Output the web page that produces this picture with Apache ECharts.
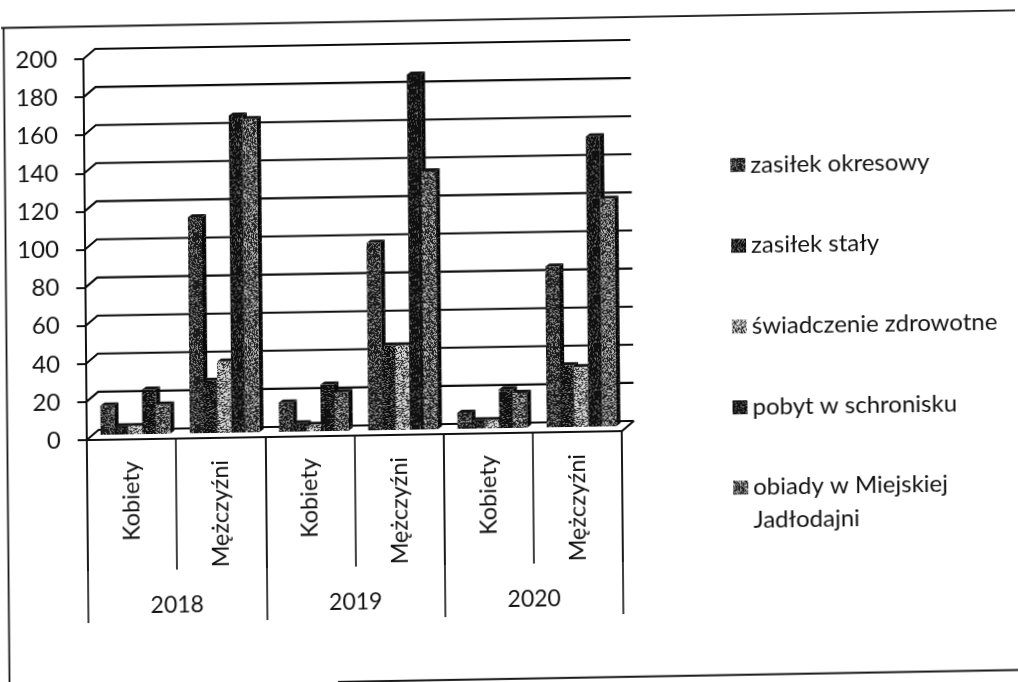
<!DOCTYPE html>
<html><head><meta charset="utf-8">
<style>html,body{margin:0;padding:0;background:#fff;overflow:hidden}
#c{width:1018px;height:682px;transform:matrix(1,-0.0168,0.009,1,0,0);transform-origin:509px 341px}</style>
<script src="https://cdn.jsdelivr.net/npm/echarts@6/dist/echarts.min.js"></script>
</head><body><div id="c"></div>
<script>
var groups = ['Kobiety','Mężczyźni','Kobiety','Mężczyźni','Kobiety','Mężczyźni'];
var years = ['2018','2019','2020'];
var yTicks = [0,20,40,60,80,100,120,140,160,180,200];
var zasilekOkresowy = [18,116,18,101,11,87];
var zasilekStaly = [7,30,7,47,7,35];
var swiadczenieZdrowotne = [7,40,6,47,7,34];
var pobytWSchronisku = [26,169,27,189,23,155];
var obiady = [18,167,23,138,21,122];
var seriesNames = ['zasiłek okresowy','zasiłek stały','świadczenie zdrowotne','pobyt w schronisku','obiady w Miejskiej\nJadłodajni'];
var seriesValues = [zasilekOkresowy,zasilekStaly,swiadczenieZdrowotne,pobytWSchronisku,obiady];

function pattern(dark,light,share,seed){
  var c=document.createElement('canvas');c.width=c.height=48;
  var g=c.getContext('2d'),s=seed;
  g.fillStyle=dark;g.fillRect(0,0,48,48);g.fillStyle=light;
  for(var y=0;y<48;y++)for(var x=0;x<48;x++){
    s=(s*1103515245+12345)%2147483648;
    if(((s>>>12)%1000)/1000<share)g.fillRect(x,y,1,1);
  }
  return {image:c,repeat:'repeat'};
}
var fills=[
  pattern('#1a1a1a','#8a8a8a',.30,11),
  pattern('#101010','#707070',.22,23),
  pattern('#2c2c2c','#d4d4d4',.60,37),
  pattern('#101010','#707070',.18,51),
  pattern('#222222','#b0b0b0',.42,73)
];
var sideFill=pattern('#080808','#444',.10,91);
var DEPTH_X=12,DEPTH_Y=10;

function renderBar(params,api){
  var s=params.seriesIndex-1;
  var i=api.value(0),band=api.size([1,0])[0];
  var top=api.coord([i,api.value(1)]),zero=api.coord([i,0]);
  var left=zero[0]-band/2+band*(.157+s*.156),w=band*.156,sx=4.2,sy=3;
  var base=zero[1]-5,t=top[1];
  return {type:'group',children:[
    {type:'polygon',shape:{points:[[left+w,t],[left+w+sx,t-sy],[left+w+sx,base-sy],[left+w,base]]},style:{fill:sideFill}},
    {type:'polygon',shape:{points:[[left,t],[left+sx,t-sy],[left+w+sx,t-sy],[left+w,t]]},style:{fill:'#141414'}},
    {type:'rect',shape:{x:left,y:t,width:w,height:base-t},style:{fill:fills[s]}}
  ]};
}
function renderWall(params,api){
  var v=api.value(1),p0=api.coord([0,v]),band=api.size([1,0])[0];
  var x0=p0[0]-band/2,x1=x0+band*6,y=p0[1];
  var st={stroke:'#0c0c0c',lineWidth:2.1,fill:null};
  var kids=[{type:'polyline',shape:{points:[[x0,y],[x0+DEPTH_X,y-DEPTH_Y],[x1+DEPTH_X,y-DEPTH_Y]]},style:st}];
  if(v===0)kids.push({type:'polyline',shape:{points:[[x1,y],[x1+DEPTH_X,y-DEPTH_Y]]},style:st});
  return {type:'group',children:kids};
}
var series=[{name:'wall',type:'custom',renderItem:renderWall,clip:false,silent:true,z:1,
  encode:{x:0,y:1},data:yTicks.map(function(v){return [0,v];})}];
seriesNames.forEach(function(n,k){
  series.push({name:n,type:'custom',renderItem:renderBar,clip:false,z:2+k,itemStyle:{color:'#333'},
    encode:{x:0,y:1},data:seriesValues[k].map(function(v,i){return [i,v];})});
});
var font='Lato, Carlito, sans-serif',ink='#111';
function legendItem(k){return {name:seriesNames[k],icon:'rect',itemStyle:{color:fills[k],borderWidth:0}};}
var legendText={fontFamily:font,fontSize:24,color:ink,lineHeight:33};
var chart=echarts.init(document.getElementById('c'),null,{renderer:'canvas'});
chart.setOption({
  animation:false,backgroundColor:'#fff',
  grid:{left:85.8,top:52,width:535.4,height:381,containLabel:false},
  xAxis:[
   {type:'category',data:groups,position:'bottom',boundaryGap:true,
    axisLine:{show:true,lineStyle:{color:ink,width:2}},
    axisTick:{show:true,length:131,lineStyle:{color:ink,width:1.6}},
    axisLabel:{rotate:90,interval:0,margin:22,fontFamily:font,fontSize:23.5,color:ink}},
   {type:'category',data:years,position:'bottom',boundaryGap:true,
    axisLine:{show:false},
    axisTick:{show:true,length:183,lineStyle:{color:ink,width:1.6}},
    axisLabel:{interval:0,margin:155,fontFamily:font,fontSize:23,color:ink}}
  ],
  yAxis:{type:'value',min:0,max:200,interval:20,
    axisLine:{show:true,lineStyle:{color:ink,width:2}},
    axisTick:{show:true,length:9,lineStyle:{color:ink,width:2}},
    splitLine:{show:false},
    axisLabel:{margin:26,fontFamily:font,fontSize:24,color:ink}},
  legend:[
   {orient:'vertical',left:732,top:152.3,padding:0,itemWidth:15,itemHeight:14,itemGap:47.8,textStyle:legendText,
    data:[0,1,2,3].map(legendItem)},
   {orient:'vertical',left:732,top:442,padding:0,itemWidth:15,itemHeight:14,textStyle:legendText,
    formatter:function(n){return '\n'+n;},data:[legendItem(4)]}
  ],
  graphic:[
    {type:'polyline',silent:true,shape:{points:[[4,19.5],[1018,18.8]]},style:{stroke:'#1a1a1a',lineWidth:1.8,fill:null}},
    {type:'polyline',silent:true,shape:{points:[[6.5,19.5],[6.5,682]]},style:{stroke:'#1a1a1a',lineWidth:1.8,fill:null}},
    {type:'polyline',silent:true,shape:{points:[[335,679],[1018,678.5]]},style:{stroke:'#1a1a1a',lineWidth:1.8,fill:null}}
  ],
  series:series
});
</script></body></html>
